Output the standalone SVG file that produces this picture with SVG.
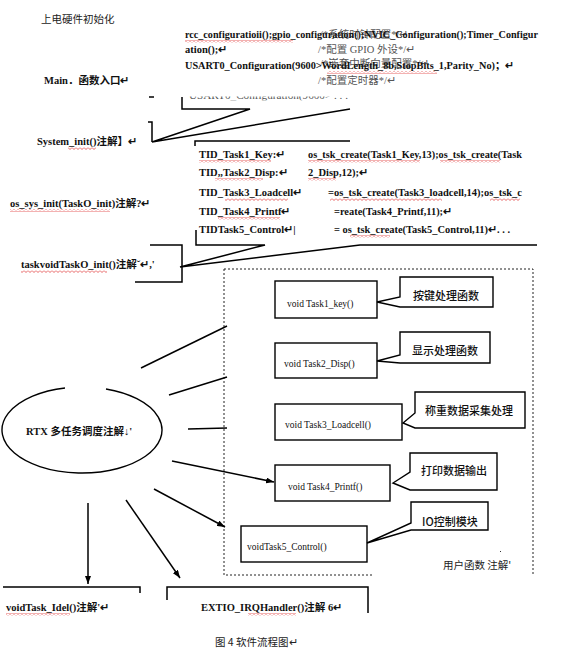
<svg xmlns="http://www.w3.org/2000/svg" width="578" height="655" viewBox="0 0 578 655">
<style>
.c{font-family:"Liberation Serif","Noto Sans CJK SC",serif;font-weight:bold;font-size:10.5px;fill:#111}
.g{font-family:"Liberation Serif","Noto Sans CJK SC",serif;font-size:10.5px;fill:#555}
.z{font-family:"Noto Sans CJK SC",sans-serif;font-size:10.5px;fill:#222}
.t{font-family:"Liberation Serif","Noto Sans CJK SC",serif;font-size:9.5px;fill:#111}
.k{font-family:"Noto Sans CJK SC",sans-serif;font-size:11px;font-weight:500;fill:#111}
.ln{stroke:#000;stroke-width:1.5;fill:none}
.bx{stroke:#000;stroke-width:1.4;fill:#fff}
.dot{stroke:#222;stroke-width:1;stroke-dasharray:2 2;fill:none}
.w{fill:url(#wave)}
</style>
<defs>
<pattern id="wave" width="4" height="3" patternUnits="userSpaceOnUse">
<path d="M0,0.5 L2,2.5 L4,0.5" stroke="#d22" stroke-width="0.7" fill="none"/>
</pattern>
<marker id="arr" viewBox="0 0 8 6" refX="8" refY="3" markerWidth="8" markerHeight="6" markerUnits="userSpaceOnUse" orient="auto">
<path d="M0,0 L8,3 L0,6 z" fill="#000"/>
</marker>
<clipPath id="cut"><rect x="180" y="96.5" width="180" height="4"/></clipPath>
</defs>
<rect width="578" height="655" fill="#fff"/>

<g id="init-block">
<text class="z" x="41" y="23" fill="#333">上电硬件初始化</text>
<text class="g" x="320" y="38" font-size="10" fill="#999">/*系统时钟配置*/↵</text>
<text class="c" x="185" y="38" textLength="353" lengthAdjust="spacingAndGlyphs">rcc_configuratioii();gpio_configuration();NVIC_Configuration();Timer_Configur</text>
<text class="c" x="185" y="53">ation();↵</text>
<text class="g" x="318" y="53">/*配置 GPIO 外设*/↵</text>
<text class="g" x="320" y="67" font-size="10" fill="#999">/*嵌套中断向量配置*/↵</text>
<text class="c" x="185" y="69" textLength="329" lengthAdjust="spacingAndGlyphs">USART0_Configuration(9600&gt;WordLength_8b,StopBits_1,Parity_No)；↵</text>
<text class="g" x="318" y="84">/*配置定时器*/↵</text>
<rect class="w" x="185" y="40" width="108" height="3"/>
<rect class="w" x="327" y="71" width="110" height="3"/>
</g>

<g id="main-label">
<text class="c" x="44" y="84">Main．函数入口↵</text>
</g>

<g id="system-init">
<text class="c" x="37" y="145">System_init()注解】↵</text>
<rect class="w" x="68" y="147" width="28" height="3"/>
<text class="g" x="189" y="99" font-size="9" fill="#999" clip-path="url(#cut)" textLength="159" lengthAdjust="spacingAndGlyphs">USART0_Configuration(9600&gt; . . .</text>
</g>

<g id="os-sys-init">
<text class="c" x="10" y="207">os_sys_init(TaskO_init)注解?↵</text>
<rect class="w" x="10" y="209" width="100" height="3"/>
</g>

<g id="tid-block">
<text class="c" x="199" y="158">TID_Task1_Key:↵</text>
<text class="c" x="308" y="158" textLength="214" lengthAdjust="spacingAndGlyphs">os_tsk_create(Task1_Key,13);os_tsk_create(Task</text>
<text class="c" x="199" y="176">TID,,Task2_Disp:↵</text>
<text class="c" x="308" y="176">2_Disp,12);↵</text>
<text class="c" x="199" y="196">TID_Task3_Loadcell↵</text>
<text class="c" x="328" y="196" textLength="194" lengthAdjust="spacingAndGlyphs">=os_tsk_create(Task3_loadcell,14);os_tsk_c</text>
<text class="c" x="199" y="215">TID_Task4_Printf↵</text>
<text class="c" x="334" y="215" textLength="118" lengthAdjust="spacingAndGlyphs">=reate(Task4_Printf,11);↵</text>
<text class="c" x="199" y="233">TIDTask5_Control↵|</text>
<text class="c" x="334" y="233" textLength="176" lengthAdjust="spacingAndGlyphs">= os_tsk_create(Task5_Control,11)↵. . .</text>
<rect class="w" x="199" y="160" width="72" height="3"/>
<rect class="w" x="308" y="160" width="112" height="3"/>
<rect class="w" x="440" y="160" width="60" height="3"/>
<rect class="w" x="215" y="178" width="48" height="3"/>
<rect class="w" x="308" y="178" width="28" height="3"/>
<rect class="w" x="225" y="198" width="63" height="3"/>
<rect class="w" x="330" y="198" width="112" height="3"/>
<rect class="w" x="490" y="198" width="30" height="3"/>
<rect class="w" x="218" y="217" width="62" height="3"/>
<rect class="w" x="350" y="235" width="40" height="3"/>
</g>

<g id="taskvoid-init">
<text class="c" x="21" y="268">taskvoidTaskO_init()注解ˇ↵,'</text>
<rect class="w" x="21" y="270" width="86" height="3"/>
</g>

<g id="rtx">
<path d="M106,389 A80,43 0 1 1 65,388" stroke="#000" stroke-width="1.4" fill="none"/>
<text class="c" x="26" y="435" font-size="10">RTX 多任务调度注解↓'</text>
</g>

<g id="user-functions">
<path class="dot" d="M224,269 H533 V575"/>
<path class="dot" d="M224,269 V575 H372"/>
<text class="z" x="443" y="569" font-size="10">用户函数 注解'</text>
<rect x="500" y="551" width="1" height="1" fill="#333"/>
</g>

<g id="task1">
<rect class="bx" x="275" y="281" width="102" height="37"/>
<text class="t" x="287" y="307">void Task1_key()</text>
<path class="bx" d="M400,277 H493 V307 H400 L377,302 L400,297 Z"/>
<text class="k" x="413" y="300">按键处理函数</text>
</g>

<g id="task2">
<rect class="bx" x="275" y="343" width="102" height="35"/>
<text class="t" x="284" y="367">void Task2_Disp()</text>
<path class="bx" d="M400,332 H490 V363 H400 L377,361 L400,355 Z"/>
<text class="k" x="412" y="355">显示处理函数</text>
</g>

<g id="task3">
<rect class="bx" x="275" y="404" width="127" height="36"/>
<text class="t" x="285" y="428">void Task3_Loadcell()</text>
<path class="bx" d="M415,392 H525 V428 H415 L403,423 L415,413 Z"/>
<text class="k" x="425" y="415">称重数据采集处理</text>
</g>

<g id="task4">
<rect class="bx" x="275" y="465" width="115" height="36"/>
<text class="t" x="288" y="490">void Task4_Printf()</text>
<path class="bx" d="M410,453 H497 V490 H410 L393,483 L410,472 Z"/>
<text class="k" x="421" y="475">打印数据输出</text>
</g>

<g id="task5">
<rect class="bx" x="241" y="526" width="126" height="36"/>
<text class="t" x="247" y="550">voidTask5_Control()</text>
<path class="bx" d="M411,502 H488 V530 H411 L367,543 L411,523 Z"/>
<text class="k" x="422" y="526">IO控制模块</text>
</g>

<g id="task-idle">
<path class="ln" d="M3,587 H140 V593"/>
<text class="c" x="6" y="611">voidTask_Idel()注解'↵</text>
<rect class="w" x="6" y="613" width="64" height="3"/>
</g>

<g id="extio">
<path class="ln" d="M167,600 V587 H368 V613"/>
<text class="c" x="201" y="611">EXTIO_IRQHandler()注解 6↵</text>
<rect class="w" x="248" y="613" width="48" height="3"/>
</g>

<g id="caption">
<text class="z" x="215" y="646" font-size="12.5">图 4 软件流程图↵</text>
</g>

<g id="connectors">
<path class="ln" d="M149,97 H154"/>
<path class="ln" d="M182,97 V109 H250 L152,142 L350,109"/>
<path class="ln" d="M148,122 H152 V142"/>
<path class="ln" d="M195,146 V141 H350"/>
<path class="ln" d="M196,230 V245 H265 L180,267 L360,245 H537"/>
<path class="ln" d="M150,245 H182 V282 H135"/>
<path class="ln" d="M141,368 L227,326"/>
<path class="ln" d="M169,395 L227,377"/>
<path class="ln" d="M188,429 L227,428"/>
<path class="ln" d="M172,461 L274,482" marker-end="url(#arr)"/>
<path class="ln" d="M154,489 L225,527" marker-end="url(#arr)"/>
<path class="ln" d="M88,503 V584" marker-end="url(#arr)"/>
<path class="ln" d="M126,500 L180,578" marker-end="url(#arr)"/>
</g>
</svg>
